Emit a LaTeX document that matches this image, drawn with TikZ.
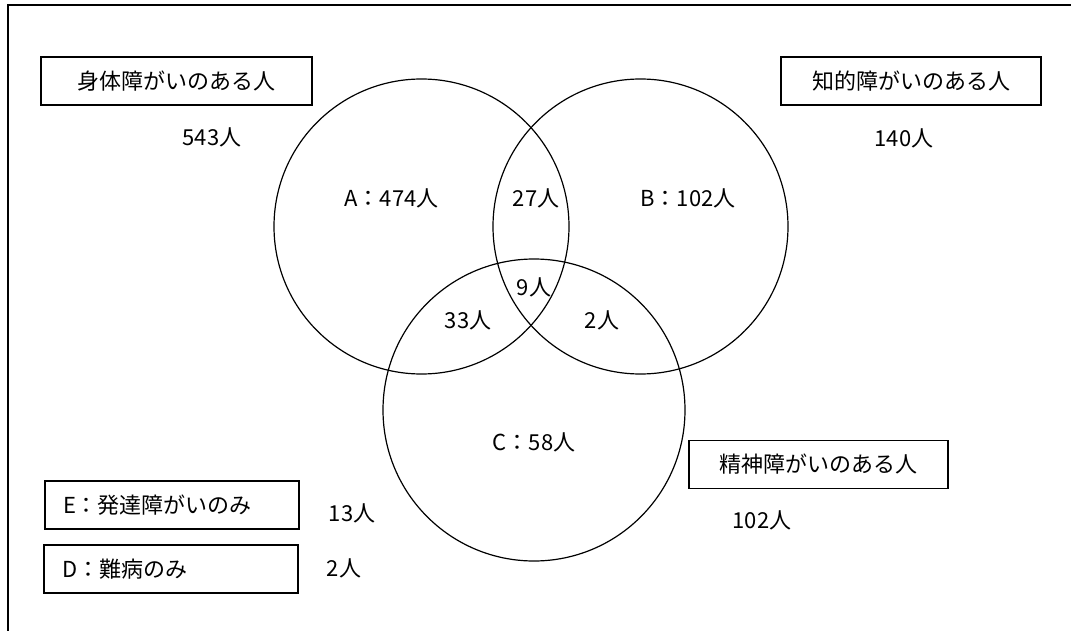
\documentclass[tikz,border=0pt]{standalone}
\usepackage{fontspec}
\setmainfont{Noto Sans CJK JP}
\usetikzlibrary{positioning}
\tikzset{venn/.style = {draw, circle, line width = 1.2pt, inner sep = 0}}
\tikzset{tag/.style = {draw, line width = 1.1pt, minimum height = 48pt, inner sep = 0}}
\tikzset{onlytag/.style = {tag, text width = 218pt, inner xsep = 18pt, align = left}}

\begin{document}
\begin{tikzpicture}[x = 1pt, y = -1pt, font = \fontsize{22}{26}\selectfont]
    \useasboundingbox (0, 0) rectangle (1071, 631);
    \draw [line width = 1.2pt] (8, 631) -- (8, 5) -- (1071, 5);
    % the three sets
    \node (phys) [venn, minimum size = 295pt] at (421.5, 226.5) {};
    \node (intel) [venn, minimum size = 295pt] at (640.5, 226.5) {};
    \node (ment) [venn, minimum size = 302pt] at (534, 410) {};
    \node (onlyA) at (391.5, 198) {A：474人};
    \node (AB) at (536, 198) {27人};
    \node (onlyB) at (688, 198) {B：102人};
    \node (ABC) at (534, 287) {9人};
    \node (AC) at (468, 320) {33人};
    \node (BC) at (602, 320) {2人};
    \node (onlyC) at (534, 442) {C：58人};
    % set names and totals
    \node (phystag) [tag, minimum width = 271pt] at (176.5, 81) {身体障がいのある人};
    \node (physnum) at (212, 137) {543人};
    \node (inteltag) [tag, minimum width = 260pt] at (911, 81) {知的障がいのある人};
    \node (intelnum) at (904, 138) {140人};
    \node (menttag) [tag, minimum width = 259pt] at (818.5, 464.5) {精神障がいのある人};
    \node (mentnum) at (762, 520) {102人};
    \node (devtag) [onlytag] at (172, 505) {E：発達障がいのみ};
    \node (devnum) at (352, 513) {13人};
    \node (raretag) [onlytag] at (171, 569) {D：難病のみ};
    \node (rarenum) at (344, 568) {2人};
  \end{tikzpicture}
\end{document}
